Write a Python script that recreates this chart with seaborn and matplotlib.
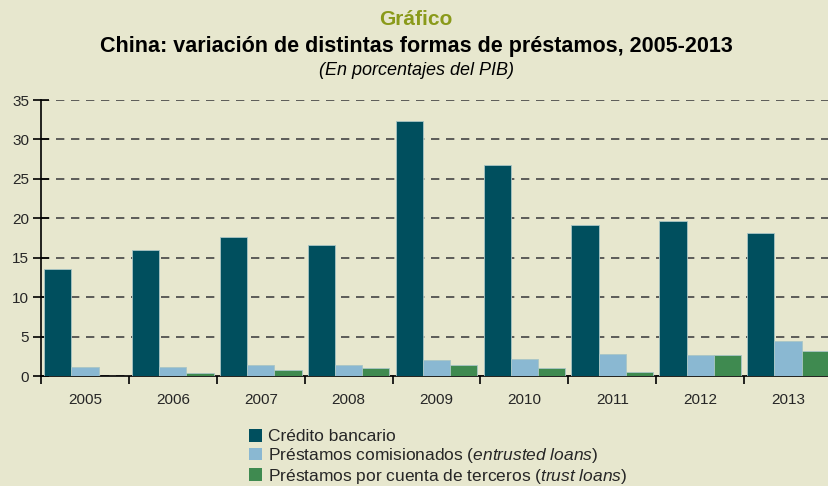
import numpy as np
import pandas as pd
import matplotlib.pyplot as plt
import seaborn as sns
from matplotlib.patches import Patch

years = ["2005", "2006", "2007", "2008", "2009", "2010", "2011", "2012", "2013"]
credito_bancario = [13.6, 16.0, 17.6, 16.6, 32.3, 26.8, 19.1, 19.7, 18.1]
entrusted = [1.2, 1.2, 1.4, 1.4, 2.0, 2.2, 2.8, 2.6, 4.4]
trust = [0.0, 0.4, 0.8, 1.0, 1.4, 1.0, 0.55, 2.6, 3.2]

series_names = ["Crédito bancario",
                "Préstamos comisionados",
                "Préstamos por cuenta de terceros"]
legend_labels = ["Crédito bancario",
                 r"Préstamos comisionados ($\mathit{entrusted\ loans}$)",
                 r"Préstamos por cuenta de terceros ($\mathit{trust\ loans}$)"]
colors = ["#004F5E", "#8AB8D2", "#3F8A50"]

df = pd.DataFrame({
    "Año": years * 3,
    "Serie": [series_names[0]] * 9 + [series_names[1]] * 9 + [series_names[2]] * 9,
    "Valor": credito_bancario + entrusted + trust,
})

bg = "#E7E7CE"
sns.set_style("white")
plt.rcParams["font.family"] = ["Liberation Sans", "DejaVu Sans"]
plt.rcParams["mathtext.fontset"] = "custom"
plt.rcParams["mathtext.it"] = "Liberation Sans:italic"
plt.rcParams["mathtext.rm"] = "Liberation Sans"

fig = plt.figure(figsize=(8.29, 4.86), dpi=100, facecolor=bg)
ax = fig.add_axes([41 / 829, 1 - 376 / 486, 791 / 829, 276 / 486])
ax.set_facecolor(bg)

sns.barplot(data=df, x="Año", y="Valor", hue="Serie", palette=colors,
            saturation=1, width=0.93, ax=ax, edgecolor="#A9C6C6", linewidth=0.6,
            legend=False, zorder=3)

ax.set_ylim(0, 35)
ax.set_xlim(-0.5, 8.5)
ax.set_yticks(range(0, 36, 5))
ax.yaxis.grid(True, linestyle=(0, (5, 4)), color="#444444", linewidth=1.2, zorder=0)
ax.set_axisbelow(True)
ax.set_xlabel("")
ax.set_ylabel("")

for s in ["top", "right"]:
    ax.spines[s].set_visible(False)
for s in ["left", "bottom"]:
    ax.spines[s].set_color("black")
    ax.spines[s].set_linewidth(1.2)

ax.tick_params(axis="y", direction="inout", length=11, width=1.2, color="black",
               labelsize=11, pad=3, left=True)
ax.tick_params(axis="x", which="major", length=0, labelsize=11, pad=12)
ax.set_xticks(np.arange(-0.5, 9, 1), minor=True)
ax.tick_params(axis="x", which="minor", length=6, width=1.2, color="black", bottom=True)

fig.text(0.502, 0.96, "Gráfico", ha="center", va="center", fontsize=15,
         fontweight="bold", color="#8A9A1A")
fig.text(0.502, 0.905, "China: variación de distintas formas de préstamos, 2005-2013",
         ha="center", va="center", fontsize=15.5, fontweight="bold", color="black")
fig.text(0.502, 0.855, "(En porcentajes del PIB)", ha="center", va="center",
         fontsize=13, style="italic", color="black")

handles = [Patch(facecolor=c, edgecolor="none") for c in colors]
fig.legend(handles, legend_labels, loc="upper left", bbox_to_anchor=(242 / 829, 1 - 422 / 486),
           frameon=False, fontsize=12.5, handlelength=0.75, handleheight=0.75,
           handletextpad=0.35, labelspacing=0.1, borderaxespad=0)

fig.savefig("out.png", dpi=100, facecolor=bg)
